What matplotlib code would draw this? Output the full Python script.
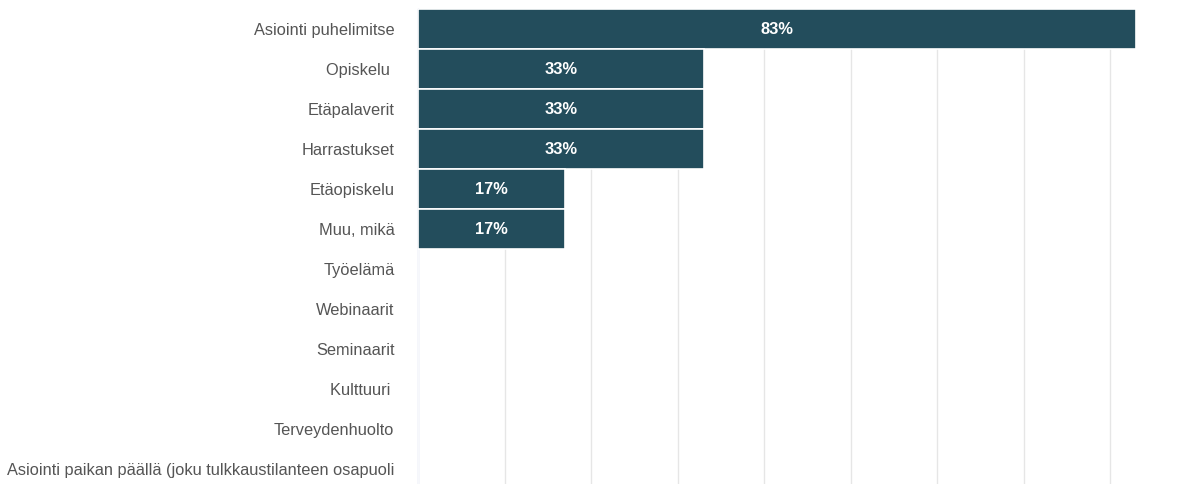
import matplotlib
matplotlib.use('Agg')
from matplotlib import pyplot as plt

categories = [
    'Asiointi puhelimitse',
    'Opiskelu ',
    'Etäpalaverit',
    'Harrastukset',
    'Etäopiskelu',
    'Muu, mikä',
    'Työelämä',
    'Webinaarit',
    'Seminaarit',
    'Kulttuuri ',
    'Terveydenhuolto',
    'Asiointi paikan päällä (joku tulkkaustilanteen osapuoli',
]
shares = [83, 33, 33, 33, 17, 17, 0, 0, 0, 0, 0, 0]

plt.rcParams['font.family'] = ['Liberation Sans', 'DejaVu Sans']

fig = plt.figure(figsize=(11.96, 4.84), dpi=100)
ax = fig.add_axes([418 / 1196, -5 / 484, 1 - 418 / 1196, 480 / 484])

pos = list(range(len(categories)))
bars = ax.barh(pos, shares, height=1.0, color='#234d5c',
               edgecolor='white', linewidth=1.2, zorder=3)

for b, v in zip(bars, shares):
    if v > 0:
        ax.text(v / 2, b.get_y() + b.get_height() / 2, '%d%%' % v,
                ha='center', va='center', color='white',
                fontsize=11.8, fontweight='bold', zorder=4)

ax.set_xlim(0, 89.9)
ax.set_ylim(len(categories) - 0.5, -0.5)
ax.set_xticks(range(10, 90, 10))
ax.set_xticklabels([])
ax.grid(axis='x', color='#e6e6e6', linewidth=1, zorder=0)
ax.set_yticks(pos)
ax.set_yticklabels(categories, fontsize=11.8, color='#555555')
ax.tick_params(axis='y', length=0, pad=17)
ax.tick_params(axis='x', length=0)
for side in ['top', 'right', 'bottom']:
    ax.spines[side].set_visible(False)
ax.spines['left'].set_color('#ccd6eb')
ax.spines['left'].set_linewidth(1)

fig.savefig('out.png', dpi=100)
